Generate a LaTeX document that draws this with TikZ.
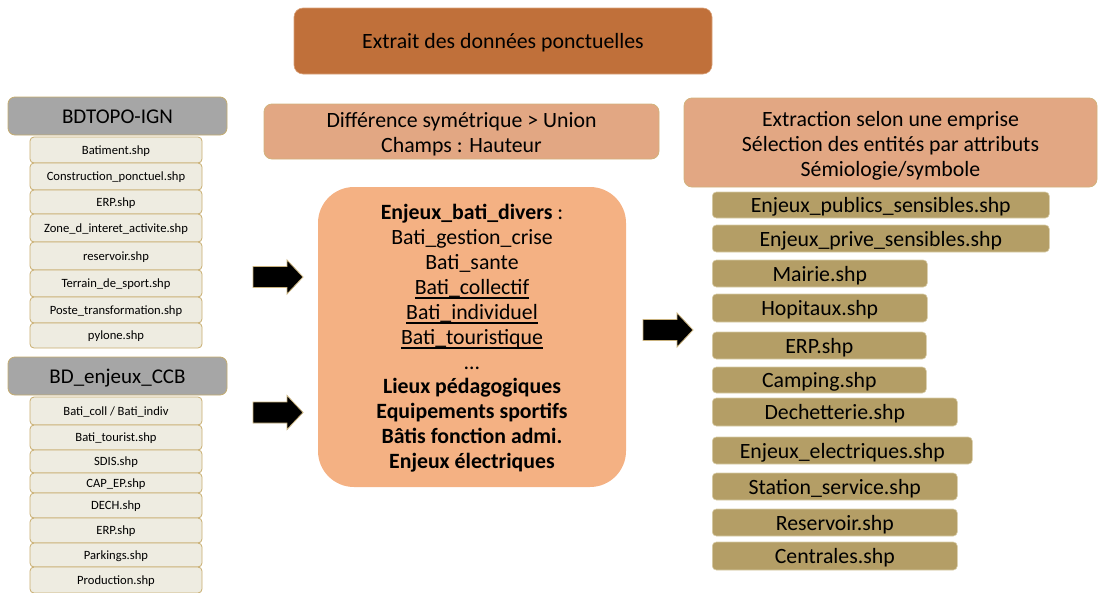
\documentclass[tikz,border=0pt]{standalone}
\usepackage{fontspec}
\setmainfont{Carlito}

% underline drawn at the level of the underscores
\newsavebox{\ulwordbox}
\newcommand{\ulword}[1]{\sbox{\ulwordbox}{#1}%
  \rlap{\rule[-4.4pt]{\wd\ulwordbox}{1.5pt}}\usebox{\ulwordbox}}

\definecolor{titlefill}{HTML}{C0703A}
\definecolor{titleedge}{HTML}{D9A27A}
\definecolor{opfill}{HTML}{E2A783}
\definecolor{opedge}{HTML}{D2B27C}
\definecolor{catfill}{HTML}{F4B183}
\definecolor{headfill}{HTML}{A6A6A6}
\definecolor{headedge}{HTML}{C5AC70}
\definecolor{srcfill}{HTML}{EEECE1}
\definecolor{srcedge}{HTML}{C8AD6E}
\definecolor{outfill}{HTML}{B49E66}
\definecolor{outedge}{HTML}{D8CCA6}
\definecolor{arrowedge}{HTML}{C9B27E}

\begin{document}
\begin{tikzpicture}[x=1pt,y=-1pt,
  bigfont/.style={font=\fontsize{21.8}{24.9}\selectfont},
  titlebox/.style={bigfont, fill=titlefill, draw=titleedge, line width=0.6pt,
    rounded corners=9pt, inner sep=0pt, minimum width=418pt, minimum height=66pt,
    text height=17pt, text depth=3pt},
  opbox/.style={bigfont, fill=opfill, draw=opedge, line width=0.8pt,
    rounded corners=8pt, inner sep=0pt, align=center},
  catbox/.style={bigfont, fill=catfill, rounded corners=36pt, inner sep=0pt,
    align=center, minimum width=308pt, minimum height=300pt},
  header/.style={font=\fontsize{21}{24}\selectfont, fill=headfill, draw=headedge,
    line width=0.8pt, rounded corners=7pt, inner sep=0pt, minimum width=219pt,
    minimum height=38pt, text height=17pt, text depth=3pt},
  srcitem/.style={font=\fontsize{12.6}{14}\selectfont, fill=srcfill, draw=srcedge,
    line width=0.8pt, rounded corners=4pt, inner sep=0pt, minimum width=172pt,
    text height=10.5pt, text depth=2pt},
  outitem/.style={bigfont, fill=outfill, draw=outedge, line width=0.6pt,
    rounded corners=4pt, inner sep=0pt, anchor=west,
    text height=18pt, text depth=3pt},
  blockarr/.pic={
    \draw[fill=black, draw=arrowedge, line width=0.8pt, line join=miter]
      (0,-10.5) -- (34,-10.5) -- (34,-17) -- (50,0) -- (34,17) -- (34,10.5)
      -- (0,10.5) -- cycle;}
]
\useasboundingbox (0,0) rectangle (1098,592);

% title and processing steps
\node[titlebox] (title) at (503,41) {Extrait des données ponctuelles};
\node[opbox, minimum width=395pt, minimum height=55pt] (union) at (461.5,131.5)
  {\rule{0pt}{20pt}Différence symétrique > Union\\Champs : Hauteur};
\node[opbox, minimum width=413pt, minimum height=89pt] (extract) at (890.5,142.5)
  {\rule{0pt}{22pt}Extraction selon une emprise\\Sélection des entités par attributs\\Sémiologie/symbole};

% intermediate building categories
\node[catbox] (cat) at (472,337) {%
  \rule{0pt}{18pt}\textbf{Enjeux\_bati\_divers} :\\
  Bati\_gestion\_crise\\
  Bati\_sante\\
  \ulword{Bati\_collectif}\\
  \ulword{Bati\_individuel}\\
  \ulword{Bati\_touristique}\\
  …\\
  \textbf{Lieux pédagogiques}\\
  \textbf{Equipements sportifs}\\
  \textbf{Bâtis fonction admi.}\\
  \textbf{Enjeux électriques}};

% source database BDTOPO-IGN
\node[header] (bdtopo) at (117.5,116) {BDTOPO-IGN};
\node[srcitem, minimum height=26pt] (t1) at (116,150)   {Batiment.shp};
\node[srcitem, minimum height=27pt] (t2) at (116,176.5) {Construction\_ponctuel.shp};
\node[srcitem, minimum height=24pt] (t3) at (116,202)   {ERP.shp};
\node[srcitem, minimum height=28pt] (t4) at (116,228)   {Zone\_d\_interet\_activite.shp};
\node[srcitem, minimum height=28pt] (t5) at (116,256)   {reservoir.shp};
\node[srcitem, minimum height=27pt] (t6) at (116,283.5) {Terrain\_de\_sport.shp};
\node[srcitem, minimum height=26pt] (t7) at (116,310)   {Poste\_transformation.shp};
\node[srcitem, minimum height=25pt] (t8) at (116,335.5) {pylone.shp};

% source database BD_enjeux_CCB
\node[header] (ccb) at (117.5,376) {BD\_enjeux\_CCB};
\node[srcitem, minimum height=28pt] (c1) at (116,411)   {Bati\_coll / Bati\_indiv};
\node[srcitem, minimum height=25pt] (c2) at (116,437.5) {Bati\_tourist.shp};
\node[srcitem, minimum height=23pt] (c3) at (116,461.5) {SDIS.shp};
\node[srcitem, minimum height=20pt] (c4) at (116,483)   {CAP\_EP.shp};
\node[srcitem, minimum height=25pt] (c5) at (116,505.5) {DECH.shp};
\node[srcitem, minimum height=25pt] (c6) at (116,530.5) {ERP.shp};
\node[srcitem, minimum height=24pt] (c7) at (116,555)   {Parkings.shp};
\node[srcitem, minimum height=26pt] (c8) at (116,580)   {Production.shp};

% output layers
\node[outitem, minimum width=337pt, minimum height=26pt] (o1)  at (712,205)   {Enjeux\_publics\_sensibles.shp};
\node[outitem, minimum width=337pt, minimum height=27pt] (o2)  at (712,238.5) {Enjeux\_prive\_sensibles.shp};
\node[outitem, minimum width=215pt, minimum height=27pt] (o3)  at (712,273.5) {Mairie.shp};
\node[outitem, minimum width=215pt, minimum height=28pt] (o4)  at (712,308)   {Hopitaux.shp};
\node[outitem, minimum width=214pt, minimum height=27pt] (o5)  at (712,345.5) {ERP.shp};
\node[outitem, minimum width=214pt, minimum height=26pt] (o6)  at (712,380)   {Camping.shp};
\node[outitem, minimum width=245pt, minimum height=28pt] (o7)  at (712,412)   {Dechetterie.shp};
\node[outitem, minimum width=260pt, minimum height=27pt] (o8)  at (712,450.5) {Enjeux\_electriques.shp};
\node[outitem, minimum width=245pt, minimum height=27pt] (o9)  at (712,486.5) {Station\_service.shp};
\node[outitem, minimum width=245pt, minimum height=27pt] (o10) at (712,522.5) {Reservoir.shp};
\node[outitem, minimum width=245pt, minimum height=28pt] (o11) at (712,556)   {Centrales.shp};

% block arrows between the stages
\pic at (253,277) {blockarr};
\pic at (253,412.5) {blockarr};
\pic at (643,330) {blockarr};
\end{tikzpicture}
\end{document}
